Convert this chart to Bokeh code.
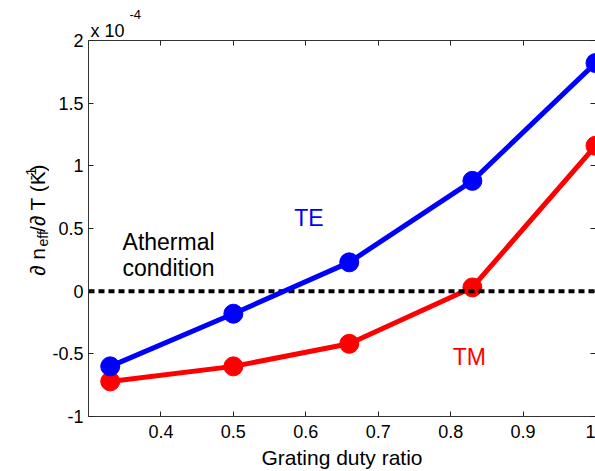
import math
from bokeh.plotting import figure
from bokeh.layouts import row
from bokeh.models import (LinearAxis, FixedTicker, Label, Range1d,
                          CustomLabelingPolicy, Title)
from bokeh.embed import file_html
from bokeh.resources import INLINE

# ---- data (values in units of 1e-4 K^-1) ----
duty_ratio = [0.33, 0.5, 0.66, 0.83, 1.0]
te_dndt = [-0.6, -0.18, 0.23, 0.88, 1.82]
tm_dndt = [-0.72, -0.6, -0.42, 0.03, 1.16]
athermal_x = [0.3, 1.0]
athermal_y = [0.0, 0.0]

x_ticks = [0.4, 0.5, 0.6, 0.7, 0.8, 0.9, 1.0]
x_tick_labels = ["0.4", "0.5", "0.6", "0.7", "0.8", "0.9", "1"]
y_ticks = [-1, -0.5, 0, 0.5, 1, 1.5, 2]
y_tick_labels = ["-1", "-0.5", "0", "0.5", "1", "1.5", "2"]

FONT = "Liberation Sans"
BLUE = "#0000FF"
RED = "#FF0000"

W, H = 595, 471
LEFT_W = 49
MAIN_W = W - LEFT_W


def lab(fig, x, y, text, size="23px", color="black", angle=0.0):
    l = Label(x=x, y=y, text=text, text_font=FONT, text_font_size=size,
              text_color=color, angle=angle, text_align="left",
              text_baseline="alphabetic")
    fig.add_layout(l)


# ---- main plot ----
p = figure(width=MAIN_W, height=H,
           x_range=Range1d(0.3, 1.0), y_range=Range1d(-1, 2),
           output_backend="svg", toolbar_location=None,
           min_border_left=37, min_border_top=40, min_border_bottom=55,
           min_border_right=0)
p.grid.visible = False
p.outline_line_color = None
p.background_fill_color = "white"
p.border_fill_color = "white"

hide_all = CustomLabelingPolicy(code="""
const n = indices.size
for (let i = 0; i < n; i++) indices.unset(i)
return indices
""")


def style_axis(ax, ticks, labels, show_labels=True):
    ax.ticker = FixedTicker(ticks=ticks)
    ax.major_label_overrides = {t: l for t, l in zip(ticks, labels)}
    ax.minor_tick_line_color = None
    ax.major_tick_in = 5
    ax.major_tick_out = 0
    ax.major_tick_line_color = "#222222"
    ax.axis_line_color = "#333333"
    ax.axis_line_width = 1
    ax.major_label_text_font = FONT
    ax.major_label_text_color = "black"
    if show_labels:
        ax.major_label_text_font_size = "18px"
    else:
        ax.major_label_text_font_size = "0px"
        ax.major_label_standoff = 0
        ax.axis_label_standoff = 0
        ax.major_label_policy = hide_all


xa = p.xaxis[0]
style_axis(xa, x_ticks, x_tick_labels)
xa.major_label_standoff = 8
xa.axis_label = "Grating duty ratio"
xa.axis_label_text_font = FONT
xa.axis_label_text_font_size = "21px"
xa.axis_label_text_font_style = "normal"
xa.axis_label_text_color = "black"
xa.axis_label_standoff = 5

ya = p.yaxis[0]
style_axis(ya, y_ticks, y_tick_labels)
ya.major_label_standoff = 5

top_ax = LinearAxis()
style_axis(top_ax, x_ticks, x_tick_labels, show_labels=False)
p.add_layout(top_ax, "above")

right_ax = LinearAxis()
style_axis(right_ax, y_ticks, y_tick_labels, show_labels=False)
right_ax.axis_line_color = None
p.add_layout(right_ax, "right")

# exponent note "x 10^-4" as titles in the space above the frame
exp_base = Title(text="x 10", align="left", offset=2, standoff=0,
                 text_font=FONT, text_font_size="18px",
                 text_font_style="normal", text_color="black")
exp_sup = Title(text="-4", align="left", offset=41, standoff=0,
                text_font=FONT, text_font_size="13px",
                text_font_style="normal", text_color="black")
p.add_layout(exp_base, "above")
p.add_layout(exp_sup, "above")

# ---- series ----
p.line(duty_ratio, tm_dndt, line_color=RED, line_width=5)
p.scatter(duty_ratio, tm_dndt, size=19, fill_color=RED, line_color=RED)
p.line(athermal_x, athermal_y, line_color="black", line_width=4, line_dash="6 4")
p.line(duty_ratio, te_dndt, line_color=BLUE, line_width=5)
p.scatter(duty_ratio, te_dndt, size=19, fill_color=BLUE, line_color=BLUE)

lab(p, 0.584, 0.587, "TE", color=BLUE)
lab(p, 0.803, -0.522, "TM", color=RED)
lab(p, 0.347, 0.396, "Athermal")
lab(p, 0.347, 0.188, "condition")

# ---- left strip: rotated y label  ∂ n_eff/∂ T (K^-1) ----
left_fig = figure(width=LEFT_W, height=H, x_range=Range1d(0, LEFT_W),
                  y_range=Range1d(0, H), x_axis_type=None, y_axis_type=None,
                  output_backend="svg", toolbar_location=None, min_border=0)
left_fig.grid.visible = False
left_fig.outline_line_color = None
left_fig.border_fill_color = "white"
R = math.pi / 2
lab(left_fig, 37, H - 295, "\u2202 n", size="21px", angle=R)
lab(left_fig, 42, H - 258, "eff", size="14px", angle=R)
lab(left_fig, 37, H - 240, "/\u2202 T (K", size="21px", angle=R)
lab(left_fig, 30, H - 175, "-1", size="14px", angle=R)
lab(left_fig, 37, H - 164, ")", size="21px", angle=R)

layout = row(left_fig, p, spacing=0)
open("out.html", "w").write(file_html(layout, INLINE))
